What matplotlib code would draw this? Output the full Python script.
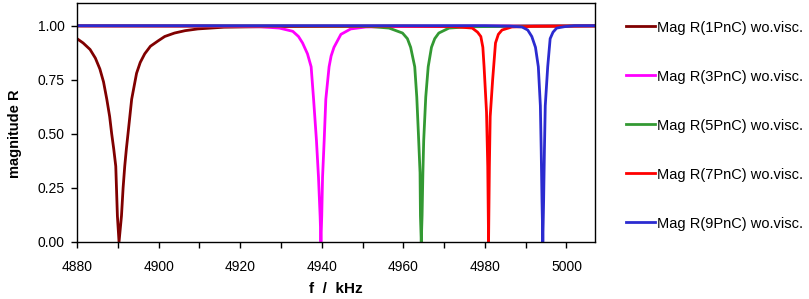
import numpy as np
import matplotlib.pyplot as plt

plt.rcParams['font.family'] = ['Liberation Sans', 'DejaVu Sans']

# values (f in kHz, magnitude R)
f_1pnc = [4880.0, 4881.5, 4883.2, 4884.5, 4885.6, 4886.5, 4887.3, 4888.0, 4888.5, 4889.0,
          4889.5, 4889.9, 4890.3, 4890.9, 4891.3, 4891.7, 4892.1, 4892.5, 4893.4, 4894.6,
          4895.5, 4896.6, 4898.0, 4899.9, 4901.5, 4903.9, 4906.5, 4909.6, 4916.0,
          4924.0, 4940.0, 4960.0, 4980.0, 5007.0]
r_1pnc = [0.94, 0.92, 0.89, 0.85, 0.80, 0.74, 0.66, 0.58, 0.50, 0.43,
          0.35, 0.12, 0.00, 0.12, 0.25, 0.35, 0.43, 0.50, 0.66, 0.78,
          0.83, 0.87, 0.905, 0.93, 0.95, 0.966, 0.977, 0.985, 0.993,
          0.995, 0.997, 0.998, 0.998, 0.999]

f_3pnc = [4880.0, 4910.0, 4925.0, 4929.6, 4932.9, 4934.3, 4935.3, 4936.5, 4937.4, 4938.0,
          4938.7, 4939.2, 4939.6, 4939.8, 4940.0, 4940.2, 4940.6, 4941.0, 4941.8, 4942.3,
          4943.0, 4944.7, 4947.1, 4950.8, 4960.0, 4980.0, 5007.0]
r_3pnc = [0.999, 0.998, 0.995, 0.989, 0.974, 0.95, 0.92, 0.87, 0.81, 0.66,
          0.47, 0.30, 0.12, 0.00, 0.12, 0.30, 0.47, 0.66, 0.81, 0.86,
          0.90, 0.96, 0.985, 0.994, 0.997, 0.998, 0.999]

f_5pnc = [4880.0, 4940.0, 4952.0, 4956.5, 4959.8, 4961.0, 4961.8, 4962.8, 4963.3, 4963.7,
          4964.1, 4964.2, 4964.4, 4964.6, 4964.8, 4965.0, 4965.5, 4966.1, 4966.9, 4967.7,
          4968.7, 4971.2, 4976.0, 4990.0, 5007.0]
r_5pnc = [0.999, 0.998, 0.996, 0.989, 0.966, 0.94, 0.90, 0.81, 0.67, 0.50,
          0.32, 0.12, 0.00, 0.12, 0.32, 0.47, 0.67, 0.81, 0.90, 0.94,
          0.966, 0.989, 0.995, 0.998, 0.999]

f_7pnc = [4880.0, 4960.0, 4972.0, 4976.9, 4978.2, 4979.0, 4979.5, 4979.8, 4980.4, 4980.7,
          4980.9, 4981.1, 4981.3, 4981.9, 4982.6, 4983.3, 4984.2, 4986.6, 4992.0, 5000.0,
          5007.0]
r_7pnc = [0.999, 0.998, 0.996, 0.989, 0.97, 0.95, 0.90, 0.81, 0.60, 0.35,
          0.00, 0.35, 0.58, 0.75, 0.92, 0.96, 0.98, 0.994, 0.997, 0.998,
          0.999]

f_9pnc = [4880.0, 4980.0, 4986.0, 4989.1, 4990.5, 4991.5, 4992.4, 4993.1, 4993.6, 4993.8,
          4994.0, 4994.2, 4994.4, 4994.6, 4994.8, 4995.4, 4996.0, 4996.7, 4997.6, 4999.7,
          5002.0, 5007.0]
r_9pnc = [1.0, 1.0, 0.998, 0.994, 0.98, 0.95, 0.90, 0.81, 0.63, 0.43,
          0.19, 0.00, 0.19, 0.43, 0.63, 0.81, 0.94, 0.97, 0.989, 0.996,
          1.0, 1.0]

labels = ['Mag R(1PnC) wo.visc.', 'Mag R(3PnC) wo.visc.', 'Mag R(5PnC) wo.visc.',
          'Mag R(7PnC) wo.visc.', 'Mag R(9PnC) wo.visc.']
colors = ['#800000', '#ff00ff', '#339933', '#ff0000', '#2b2bd0']

fig = plt.figure(figsize=(8.09, 2.99), dpi=100)
ax = fig.add_axes([0.0952, 0.191, 0.6403, 0.799])

series = [(f_1pnc, r_1pnc), (f_3pnc, r_3pnc), (f_5pnc, r_5pnc),
          (f_7pnc, r_7pnc), (f_9pnc, r_9pnc)]
for (f, r), lab, c in zip(series, labels, colors):
    ax.plot(f, r, color=c, lw=2.0, label=lab)

ax.set_xlim(4880, 5007)
ax.set_ylim(0, 1.105)
ax.set_xticks(np.arange(4880, 5001, 20))
ax.set_xticks(np.arange(4890, 5001, 20), minor=True)
ax.set_yticks([0, 0.25, 0.5, 0.75, 1.0])
ax.set_yticklabels(['0.00', '0.25', '0.50', '0.75', '1.00'])
ax.tick_params(which='both', direction='out', length=4, width=1, labelsize=10, color='black')
ax.tick_params(axis='x', pad=9)
ax.tick_params(axis='y', pad=5)
for s in ax.spines.values():
    s.set_linewidth(1.0)

ax.set_xlabel('f  /  kHz', fontsize=11, fontweight='bold', labelpad=6)
ax.set_ylabel('magnitude R', fontsize=10.5, fontweight='bold')
ax.yaxis.set_label_coords(-0.107, 0.452)

fig.legend(loc='upper left', bbox_to_anchor=(0.757, 0.975), frameon=False,
           fontsize=10.5, handlelength=2.0, handletextpad=0.15, labelspacing=2.4)

fig.savefig('out.png', dpi=100)
